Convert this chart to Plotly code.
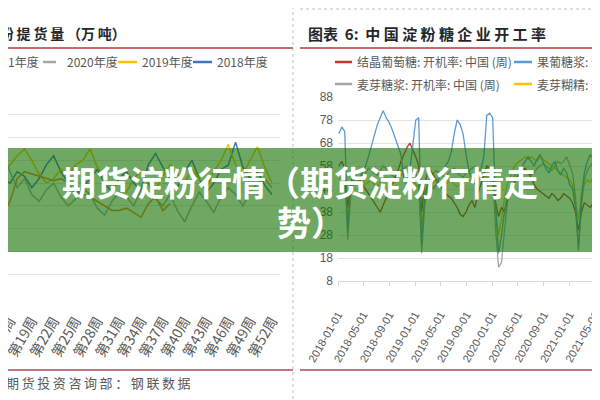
import plotly.graph_objects as go
import pandas as pd

# the page body has an 8px margin: lay out in screen pixels and shift by it
OFF = 8
W, H = 600 - OFF, 400 - OFF
def px(x): return (x - OFF) / W
def py(y): return 1 - (y - OFF) / H

# ---------------- Left chart data (weekly, 万吨) ----------------
weeks = list(range(14, 53))
weeks_2021 = list(range(14, 39))
y2021 = [34, 36, 42, 52, 55, 54, 53, 52, 51, 52, 50, 49, 45, 44, 42, 40, 38, 38, 39, 37, 35, 41, 44, 38, 41]
y2020 = [74, 63, 55, 48, 52, 45, 42, 47, 50, 44, 40, 43, 48, 45, 39, 36, 42, 46, 44, 40, 47, 50, 43, 40, 45,
         38, 33, 40, 46, 42, 37, 44, 48, 45, 40, 46, 50, 52, 48]
y2019 = [50, 55, 58, 62, 65, 60, 54, 50, 52, 56, 53, 58, 60, 65, 57, 52, 48, 50, 46, 52, 55, 50, 47, 53, 58,
         54, 50, 56, 52, 48, 55, 60, 67, 58, 54, 60, 66, 57, 50]
y2018 = [48, 52, 50, 55, 53, 48, 52, 58, 62, 55, 50, 45, 48, 52, 56, 50, 46, 52, 55, 50, 47, 58, 63, 57, 52,
         48, 55, 60, 52, 46, 50, 56, 58, 68, 57, 52, 55, 49, 45]
week_ticks = list(range(16, 53, 3))
week_tick_text = ["第%d周" % w for w in week_ticks]

# ---------------- Right chart data (开工率 %, biweekly) ----------------
dates = pd.date_range("2018-01-05", periods=89, freq="14D")
glucose = [58, 60, 57, 40, 50, 55, 53, 52, 50, 48, 46, 44, 42, 40, 38, 41, 44, 47, 50, 53, 56, 60, 63, 66, 68,
           65, 62, 58, 38, 50, 55, 56, 54, 52, 50, 48, 46, 45, 44, 42, 40, 37, 36, 38, 41, 43, 40, 46, 50, 54,
           58, 57, 55, 42, 36, 40, 38, 44, 48, 50, 53, 55, 56, 57, 55, 53, 50, 48, 47, 46, 45, 44, 46, 45, 43,
           44, 46, 45, 44, 42, 38, 30, 38, 42, 41, 40, 42, 41, 40]
hfcs = [72, 75, 73, 30, 48, 52, 50, 53, 55, 58, 62, 67, 72, 76, 79, 82, 79, 77, 74, 70, 67, 63, 52, 50, 56,
        66, 78, 79, 24, 45, 50, 52, 48, 50, 53, 55, 58, 60, 64, 72, 78, 76, 72, 63, 56, 52, 50, 54, 56, 62,
        80, 81, 79, 40, 20, 28, 38, 45, 48, 50, 52, 55, 58, 60, 62, 60, 58, 61, 63, 60, 57, 55, 58, 60, 56,
        54, 57, 55, 50, 48, 40, 22, 45, 55, 60, 63, 61, 65, 62]
maltose = [55, 56, 54, 26, 45, 52, 55, 56, 54, 55, 57, 56, 55, 54, 56, 58, 57, 55, 54, 53, 55, 56, 57, 58, 57,
           56, 55, 50, 20, 40, 50, 54, 55, 56, 55, 54, 53, 55, 56, 57, 55, 54, 53, 55, 56, 57, 58, 57, 56, 55,
           57, 58, 55, 30, 14, 16, 30, 42, 50, 53, 55, 56, 57, 56, 55, 54, 55, 57, 58, 59, 58, 57, 56, 58, 60,
           59, 60, 62, 58, 55, 45, 21, 40, 52, 56, 58, 60, 59, 60]
dextrin = [52, 53, 51, 35, 45, 50, 52, 53, 52, 50, 51, 52, 50, 49, 51, 52, 53, 52, 50, 51, 53, 54, 55, 54, 53,
           52, 50, 48, 32, 42, 48, 50, 51, 52, 50, 49, 50, 51, 52, 50, 49, 50, 52, 53, 52, 51, 53, 54, 55, 54,
           53, 52, 50, 38, 28, 35, 44, 50, 54, 57, 59, 60, 61, 62, 61, 62, 61, 60, 62, 61, 60, 59, 58, 57, 56,
           55, 54, 53, 52, 50, 42, 35, 45, 50, 52, 51, 53, 52, 51]
rate_ticks = list(range(8, 89, 10))

C_ORANGE, C_GRAY, C_YELLOW, C_BLUE = "#ed7d31", "#a5a5a5", "#ffc000", "#4472c4"
C_RED, C_LBLUE = "#c0392b", "#5b9bd5"
TXT = "#595959"
CJK = "Noto Sans CJK SC"

fig = go.Figure()
# left traces
fig.add_trace(go.Scatter(x=weeks, y=y2018, mode="lines", line=dict(color=C_BLUE, width=1.5), xaxis="x", yaxis="y"))
fig.add_trace(go.Scatter(x=weeks, y=y2019, mode="lines", line=dict(color=C_YELLOW, width=1.5), xaxis="x", yaxis="y"))
fig.add_trace(go.Scatter(x=weeks, y=y2020, mode="lines", line=dict(color=C_GRAY, width=1.5), xaxis="x", yaxis="y"))
fig.add_trace(go.Scatter(x=weeks_2021, y=y2021, mode="lines", line=dict(color=C_ORANGE, width=1.5), xaxis="x", yaxis="y"))
# right traces
fig.add_trace(go.Scatter(x=dates, y=dextrin, mode="lines", line=dict(color=C_YELLOW, width=1.3), xaxis="x2", yaxis="y2"))
fig.add_trace(go.Scatter(x=dates, y=maltose, mode="lines", line=dict(color=C_GRAY, width=1.3), xaxis="x2", yaxis="y2"))
fig.add_trace(go.Scatter(x=dates, y=glucose, mode="lines", line=dict(color=C_RED, width=1.3), xaxis="x2", yaxis="y2"))
fig.add_trace(go.Scatter(x=dates, y=hfcs, mode="lines", line=dict(color=C_LBLUE, width=1.3), xaxis="x2", yaxis="y2"))

# left x scale: week w sits at screen x = (w - 14.63) * 7.278
left_x0 = 14.63 + OFF / 7.278
fig.update_layout(
    width=W, height=H, margin=dict(l=0, r=0, t=0, b=0, autoexpand=False),
    paper_bgcolor="white", plot_bgcolor="white", showlegend=False,
    xaxis=dict(domain=[0, px(280)], range=[left_x0, 53.1], tickvals=week_ticks, ticktext=week_tick_text,
               tickangle=-60, tickfont=dict(size=14, color=TXT, family=CJK), showgrid=False,
               zeroline=False, showline=False, ticks="", ticklabelstandoff=12, automargin=False,
               ticklabeloverflow="allow"),
    yaxis=dict(domain=[py(297), py(92)], range=[0, 90], dtick=10, showticklabels=False,
               gridcolor="#e3e3e3", zeroline=False, showline=False, automargin=False),
    xaxis2=dict(domain=[px(338), 1], range=["2018-01-01", "2021-05-25"], type="date",
                tick0="2018-01-01", dtick="M4", tickformat="%Y-%m-%d", tickangle=-60,
                tickfont=dict(size=11, color=TXT, family="Liberation Sans Narrow, Liberation Sans"),
                showgrid=False, showline=True, linecolor="#d9d9d9", ticks="outside", ticklen=4,
                tickcolor="#d9d9d9", anchor="y2", ticklabelstandoff=18, automargin=False,
                ticklabeloverflow="allow"),
    yaxis2=dict(domain=[py(281), py(97)], range=[8, 88], tickvals=rate_ticks, anchor="x2",
                tickfont=dict(size=12, color=TXT, family="Liberation Sans Narrow, Liberation Sans"),
                gridcolor="#e3e3e3", zeroline=False, showline=False, ticklabelstandoff=4, automargin=False),
)

shapes = []
def seg(x0, y0, x1, y1, color, width=1.5, dash="solid"):
    shapes.append(dict(type="line", xref="paper", yref="paper", x0=px(x0), y0=py(y0), x1=px(x1), y1=py(y1),
                       line=dict(color=color, width=width, dash=dash), layer="above"))

anns = []
def text(x, y, s, size=12, color=TXT, xanchor="left", bold=False, family=CJK):
    anns.append(dict(xref="paper", yref="paper", x=px(x), y=py(y), text=("<b>%s</b>" % s) if bold else s,
                     showarrow=False, xanchor=xanchor, yanchor="middle",
                     font=dict(size=size, color=color, family=family)))

# frames / rules
seg(293, 0, 293, 400, "#bfbfbf", 1, "dot")
seg(300, 9, 600, 9, "#bfbfbf", 1, "dot")
seg(0, 48, 293, 48, "#b03a3a", 1.3)
seg(300, 48, 600, 48, "#b03a3a", 1.3)
seg(0, 370, 293, 370, "#a8485a", 1.5)
seg(300, 370, 600, 370, "#a8485a", 1.5)

# titles
text(128, 33, "淀\u2009粉\u2009提\u2009货\u2009量\u2009（万\u2009吨）", 14, "#262626", "right", True)
text(306, 33, "图表  6:  中 国 淀 粉 糖 企 业 开 工 率", 15, "#262626", "left", True)
text(193, 382, "期\u2009货\u2009投\u2009资\u2009咨\u2009询\u2009部\u2009：\u2009钢\u2009联\u2009数\u2009据", 13, "#595959", "right")

# left legend
text(41, 62, "2021年度", 12, TXT, "right")
seg(43, 62, 56, 62, C_GRAY, 2.5)
text(65, 62, "2020年度", 12)
seg(118, 62, 137, 62, C_YELLOW, 2.5)
text(140, 62, "2019年度", 12)
seg(193, 62, 212, 62, C_BLUE, 2.5)
text(215, 62, "2018年度", 12)

# right legend
seg(335, 62, 352, 62, C_RED, 2.5)
text(355, 62, "结晶葡萄糖: 开机率: 中国 (周)", 12)
seg(514, 62, 532, 62, C_LBLUE, 2.5)
text(535, 62, "果葡糖浆: 开机率: 中国 (周)", 12)
seg(335, 84, 352, 84, C_GRAY, 2.5)
text(355, 84, "麦芽糖浆: 开机率: 中国 (周)", 12)
seg(514, 84, 532, 84, C_YELLOW, 2.5)
text(535, 84, "麦芽糊精: 开机率: 中国 (周)", 12)

# banner
shapes.append(dict(type="rect", xref="paper", yref="paper", x0=0, x1=1, y0=py(252), y1=py(148),
                   fillcolor="rgba(21,115,2,0.62)", line=dict(width=0), layer="above"))
text(300, 181, "期货淀粉行情（期货淀粉行情走", 34, "white", "center", True)
text(311, 221, "势）", 34, "white", "center", True)

fig.update_layout(shapes=shapes, annotations=anns)
fig.write_html("out.html")
